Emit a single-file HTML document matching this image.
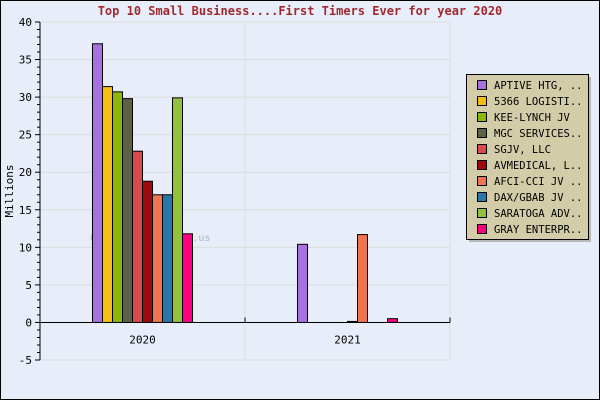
<!DOCTYPE html>
<html><head><meta charset="utf-8"><style>
body{margin:0;background:#fff}
svg{display:block;font-family:"DejaVu Sans Mono","Liberation Mono",monospace}
</style></head><body>
<svg width="600" height="400" viewBox="0 0 600 400">
<rect x="0.5" y="0.5" width="599" height="399" fill="#e8eef9" stroke="#000"/>
<text x="300" y="15" text-anchor="middle" font-size="12" font-weight="bold" fill="#a0282e">Top 10 Small Business....First Timers Ever for year 2020</text>
<text transform="translate(13,191) rotate(-90)" text-anchor="middle" font-size="11">Millions</text>
<g id="grid"></g>
<text x="90" y="241" font-size="10" fill="#9ab" opacity="0.8">Copyright Fedmine.us</text>
<g id="bars"></g>
<g id="axes"></g>
<g id="legend"></g>
</svg>
<script>
const categories=["2020","2021"];
const seriesNames=["APTIVE HTG, ..","5366 LOGISTI..","KEE-LYNCH JV","MGC SERVICES..","SGJV, LLC","AVMEDICAL, L..","AFCI-CCI JV ..","DAX/GBAB JV ..","SARATOGA ADV..","GRAY ENTERPR.."];
const colors=["#a772e0","#f5be14","#8ab80a","#5c6141","#d94a4a","#9c0a0e","#ef7550","#2877a8","#92c23d","#ff0080"];
const values2020=[37.1,31.4,30.7,29.8,22.8,18.8,17.0,17.0,29.9,11.8];
const values2021=[10.4,0,0,0,0,0.1,11.7,0,0,0.5];
const yTicks=[-5,0,5,10,15,20,25,30,35,40];
const NS="http://www.w3.org/2000/svg";
const L=40,R=450,T=22,B=360,ymin=-5,ymax=40;
const y=v=>B-(v-ymin)/(ymax-ymin)*(B-T);
const groupW=(R-L)/categories.length;
const barW=10;
function mk(t,a,p){const e=document.createElementNS(NS,t);for(const k in a)e.setAttribute(k,a[k]);p.appendChild(e);return e;}
const grid=document.getElementById('grid'),bars=document.getElementById('bars'),axes=document.getElementById('axes'),leg=document.getElementById('legend');
yTicks.forEach(v=>{const l=mk('line',{x1:L,x2:R,y1:y(v),y2:y(v),stroke:'#dcdcdc'},grid);


const t=mk('text',{x:L-8,y:y(v)+4,'text-anchor':'end','font-size':11},axes);t.textContent=v;


mk('line',{x1:L-5,x2:L,y1:y(v),y2:y(v),stroke:'#000'},axes);});
for(let v=ymin;v<ymax;v+=1){if(v%5)mk('line',{x1:L-3,x2:L,y1:y(v),y2:y(v),stroke:'#000'},axes);}
for(let i=0;i<=categories.length;i++){const x=L+i*groupW;const l=mk('line',{x1:x,x2:x,y1:T,y2:B,stroke:'#dcdcdc'},grid);


mk('line',{x1:x,x2:x,y1:y(0)-5,y2:y(0),stroke:'#000'},axes);}
mk('line',{x1:L,x2:L,y1:T,y2:B,stroke:'#000'},axes);
mk('line',{x1:L,x2:R,y1:y(0),y2:y(0),stroke:'#000'},axes);
const data=[values2020,values2021];
categories.forEach((c,gi)=>{const cx=L+groupW*(gi+0.5);
const t=mk('text',{x:cx,y:y(0)+21,'text-anchor':'middle','font-size':11},axes);t.textContent=c;


const x0=cx-barW*seriesNames.length/2;
data[gi].forEach((v,si)=>{if(v<=0)return;const yt=y(v),h=Math.max(y(0)-yt,1);
const r=mk('rect',{x:x0+si*barW,y:y(0)-h,width:barW,height:h,fill:colors[si],stroke:'#000','stroke-width':1},bars);

});});
mk('rect',{x:469,y:77,width:122,height:165,fill:'#b8b8b8'},leg);
const box=mk('rect',{x:466.5,y:74.5,width:122,height:165,fill:'#d3cca8',stroke:'#000'},leg);


seriesNames.forEach((n,i)=>{const yy=80+i*16;
const s=mk('rect',{x:477.5,y:yy+0.5,width:9,height:9,fill:colors[i],stroke:'#000'},leg);


const t=mk('text',{x:494,y:yy+9,'font-size':10.5},leg);t.textContent=n;

});
</script>
</body></html>
